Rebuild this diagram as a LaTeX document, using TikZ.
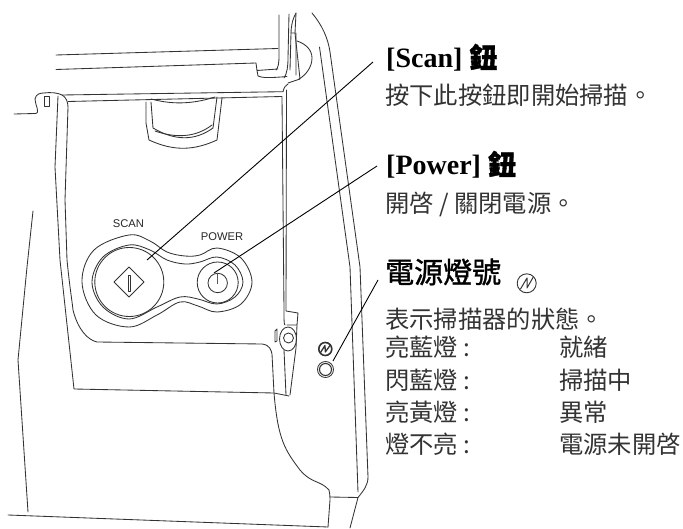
\documentclass[tikz,border=0pt]{standalone}
\usepackage{fontspec}
\setmainfont{Liberation Serif}
\newfontfamily\cjk{Noto Sans CJK TC}
\newfontfamily\cjkb[FakeBold=1.2]{Noto Sans CJK TC}
\newfontfamily\lab{Liberation Sans}
\tikzset{
  ln/.style={line width=0.85pt,draw=black!80,line join=round,line cap=round},
  leader/.style={line width=0.9pt,draw=black},
  ttl/.style={anchor=base west,inner sep=0pt,font=\fontsize{28}{30}\selectfont\bfseries,text=black},
  txt/.style={anchor=base west,inner sep=0pt,font=\fontsize{24.3}{28}\selectfont\cjk,text=black!80},
  lbl/.style={inner sep=0pt,font=\fontsize{11.2}{14}\selectfont\lab,text=black!85},
}
\begin{document}
\begin{tikzpicture}[x=1pt,y=-1pt]
\useasboundingbox (0,0) rectangle (683,529);
% lid
\draw[ln] (56,55) -- (278,48.5);
\draw[ln] (56,69.5) -- (256,63) -- (257,70.5) -- (278,69);
\draw[ln] (257,70.5) -- (258,76) .. controls (262,78) and (270,78) .. (287,76.5);
\draw[ln] (279,15) -- (279,56) .. controls (279,64) and (278,68) .. (276,70);
\draw[ln] (289,14) -- (288,58) .. controls (288,66) and (287,74) .. (284,78);
\draw[ln] (296,13) .. controls (292,20) and (291,28) .. (291,33) -- (296,33) -- (296,75);
\draw[ln] (296,13) -- (295,33) -- (300,79) -- (288,83);
\draw[ln] (291,33) -- (290,70);
\draw[ln] (297,41) .. controls (306,44) and (312,50) .. (312,58) .. controls (312,67) and (306,75) .. (299,79);
% frame top and sides
\draw[ln] (14,114) -- (35,113.5) .. controls (41,113.5) and (35,105) .. (35,99) .. controls (36,94) and (40,93) .. (44,93) .. controls (52,92) and (58,93) .. (62,95) -- (283,91.7);
\draw[ln] (44,96) rectangle (49,106);
\draw[ln] (62,95) .. controls (66,97) and (68,102) .. (68,107) -- (65,200) -- (67,260) .. controls (70,290) and (72,300) .. (73,310) .. controls (78,330) and (88,340) .. (97,342) -- (262,344) .. controls (270,345) and (271,350) .. (272,354) -- (274,393) .. controls (278,440) and (285,450) .. (300,470) .. controls (312,484) and (320,480) .. (329,490) .. controls (330,495) and (330,497) .. (330,500) -- (328,527);
\draw[ln] (68,101.5) -- (282,96.5);
\draw[ln] (58,96) -- (55,167) -- (60,260) -- (74,389) -- (274,393) -- (289,396);
\draw[ln] (283,91.7) .. controls (284,87) and (286,85) .. (288,84);
% right strip
\draw[ln] (282,97) -- (284,310) .. controls (284,320) and (284,325) .. (285,325);
\draw[ln] (286.5,90) -- (286,311) -- (298,313) -- (297,325) -- (287,325);
\draw[ln] (297,325) -- (296,348) -- (290,395);
\draw[ln] (284,350) -- (286,395);
% knob
\draw[ln] (288,339) ellipse [x radius=8.5,y radius=12];
\draw[ln] (288.5,338) circle [radius=5];
\draw[ln] (275,331) -- (277,329) -- (277,341) -- (275,342) -- cycle;
% tab
\draw[ln] (146,102) -- (146,123) -- (149,140) .. controls (175,152) and (195,150) .. (217,140) -- (222,98);
\draw[ln] (151,102) -- (153,128) .. controls (175,141) and (195,141) .. (213,128) -- (217,97);
\draw[ln] (155,131) .. controls (175,138) and (195,138) .. (212,125);
\draw[ln] (151,99) .. controls (170,104) and (190,105) .. (215,97);
% left/bottom body
\draw[ln] (33,211) -- (27,267) -- (18,360) -- (28,512);
\draw[ln] (8,515) -- (328,527);
\draw[ln] (330,497) -- (358,497.5) -- (350,528);
% right body
\draw[ln] (312,13) .. controls (322,25) and (328,38) .. (330,52) -- (360,267) -- (368,477) .. controls (368,485) and (364,490) .. (358,497.5);
\draw[ln] (319.5,47) -- (350,267) -- (358,492);
% control panel
\draw[ln] plot[smooth cycle,tension=0.6] coordinates {(82,282) (94,250) (129,235) (150,241) (167,252) (185,256) (200,255) (217,248) (241,258) (252,282) (241,304) (217,312) (198,306) (180,302) (157,315) (129,327) (96,315)};
\draw[ln] plot[smooth cycle,tension=0.6] coordinates {(92,282) (103,257) (129,245) (150,250) (167,260) (185,264) (200,262) (217,257) (235,265) (243,282) (235,297) (217,304) (198,299) (180,297) (157,307) (129,319) (103,307)};
\draw[ln] (129.3,282) circle [radius=34.5];
\draw[ln] (217.7,282.5) circle [radius=20.5];
\draw[ln] (217.7,283) circle [radius=9.7];
\draw[ln] (129,267) -- (144,282) -- (129,297) -- (114,282) -- cycle;
\draw[ln] (128.2,275) -- (128.2,291) -- (130,291) -- (130,275) -- cycle;
\draw[line width=1.4pt,draw=black!65] (217.7,273) -- (217.7,284);
\node[lbl] (scanlab) at (128.5,224) {SCAN};
\node[lbl] (powerlab) at (222,236.5) {POWER};
% LED and mark
\draw[ln,line width=1.6pt] (325.3,349) circle [radius=6.5];
\draw[ln,line width=1.3pt] (320.5,352.5) -- (325,345.5) -- (325.3,352) -- (330,345.5);
\draw[ln] (325.5,369.5) circle [radius=8];
\draw[ln,line width=1.1pt] (325.5,369.5) circle [radius=6];
% texts
\node[ttl] (scantitle) at (386,68) {[Scan] {\cjkb 鈕}};
\node[txt] (scantext) at (385,105) {按下此按鈕即開始掃描。};
\node[ttl] (powertitle) at (386,175) {[Power] {\cjkb 鈕}};
\node[txt] (powertext) at (385,213) {開啓 / 關閉電源。};
\node[ttl,font=\fontsize{29}{30}\selectfont\cjkb] (ledtitle) at (385,283) {電源燈號};
\node[txt] (r0) at (385,329) {表示掃描器的狀態。};
\node[txt] (r1a) at (385,357) {亮藍燈 :};
\node[txt] (r1b) at (559,357) {就緒};
\node[txt] (r2a) at (385,389) {閃藍燈 :};
\node[txt] (r2b) at (559,389) {掃描中};
\node[txt] (r3a) at (385,421) {亮黃燈 :};
\node[txt] (r3b) at (559,421) {異常};
\node[txt] (r4a) at (385,453) {燈不亮 :};
\node[txt] (r4b) at (559,453) {電源未開啓};
% small mark in title
\draw[ln,line width=0.9pt] (526.7,283.3) circle [radius=9.5];
\draw[ln,line width=1pt] (520.5,289) -- (527,278) -- (527,288) -- (533,277.5);
% leaders
\coordinate (scanbtn) at (147,260);
\coordinate (scanend) at (373,62);
\coordinate (powbtn) at (214,273);
\coordinate (powend) at (377,166);
\coordinate (ledpt) at (333,361);
\coordinate (ledend) at (378,280);
\draw[leader] (scanbtn) -- (scanend);
\draw[leader] (powbtn) -- (powend);
\draw[leader] (ledpt) -- (ledend);
\end{tikzpicture}
\end{document}
